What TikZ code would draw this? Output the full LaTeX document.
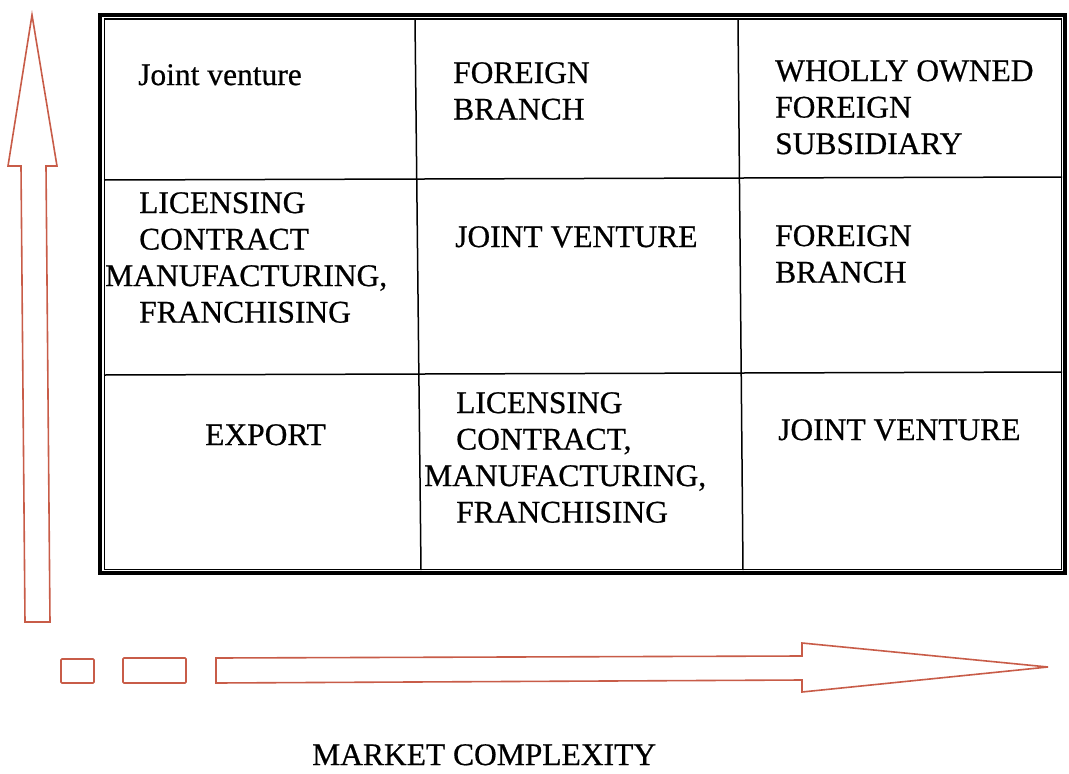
\documentclass[tikz,border=0pt]{standalone}
\usepackage{fontspec}
\setmainfont{Liberation Serif}
\newfontfamily\scanfont{Liberation Serif}[FakeBold=0.6]
\definecolor{arrowred}{RGB}{200,92,72}
\begin{document}
\begin{tikzpicture}[x=1pt,y=-1pt,
  cell/.style={anchor=north west,inner sep=0pt,align=left,font=\scanfont\fontsize{31.5}{36.5}\selectfont},
  redline/.style={draw=arrowred,line width=1.6pt,line join=miter},
  gridline/.style={line width=1.5pt}]
\useasboundingbox[fill=white] (0,0) rectangle (1069,774);
% grid
\draw[line width=3.5pt] (100,15) rectangle (1065,573);
\draw[line width=1.1pt] (104.5,19) rectangle (1061.5,569.5);
\draw[gridline] (104,180) -- (1062,177);
\draw[gridline] (104,375) -- (1062,372);
\draw[gridline] (415,19) -- (421,570);
\draw[gridline] (738,19) -- (743,570);
% cell texts
\node[cell] (r1c1) at (138,64) {Joint venture};
\node[cell] (r1c2) at (453,62) {FOREIGN\\BRANCH};
\node[cell] (r1c3) at (775,60) {WHOLLY OWNED\\FOREIGN\\SUBSIDIARY};
\node[cell] (r2c1) at (139,192) {LICENSING\\CONTRACT\\\hspace*{-34pt}MANUFACTURING,\\FRANCHISING};
\node[cell] (r2c2) at (455,226) {JOINT VENTURE};
\node[cell] (r2c3) at (775,225) {FOREIGN\\BRANCH};
\node[cell] (r3c1) at (205,424) {EXPORT};
\node[cell] (r3c2) at (456,392) {LICENSING\\CONTRACT,\\\hspace*{-32pt}MANUFACTURING,\\FRANCHISING};
\node[cell] (r3c3) at (778,419) {JOINT VENTURE};
\node[cell] (xlabel) at (312,744) {MARKET COMPLEXITY};
% vertical arrow
\draw[redline] (32,15) -- (57,166) -- (46,166) -- (50,622) -- (25,622) -- (21,166) -- (8,166) -- cycle;
% horizontal arrow with dashes
\draw[redline,rounded corners=1pt] (61,659) rectangle (94,683);
\draw[redline,rounded corners=1pt] (123,658) rectangle (186,683);
\draw[redline] (216,658) -- (802,656) -- (802,643) -- (1048,667) -- (802,692) -- (802,680) -- (216,683) -- cycle;
\end{tikzpicture}
\end{document}
